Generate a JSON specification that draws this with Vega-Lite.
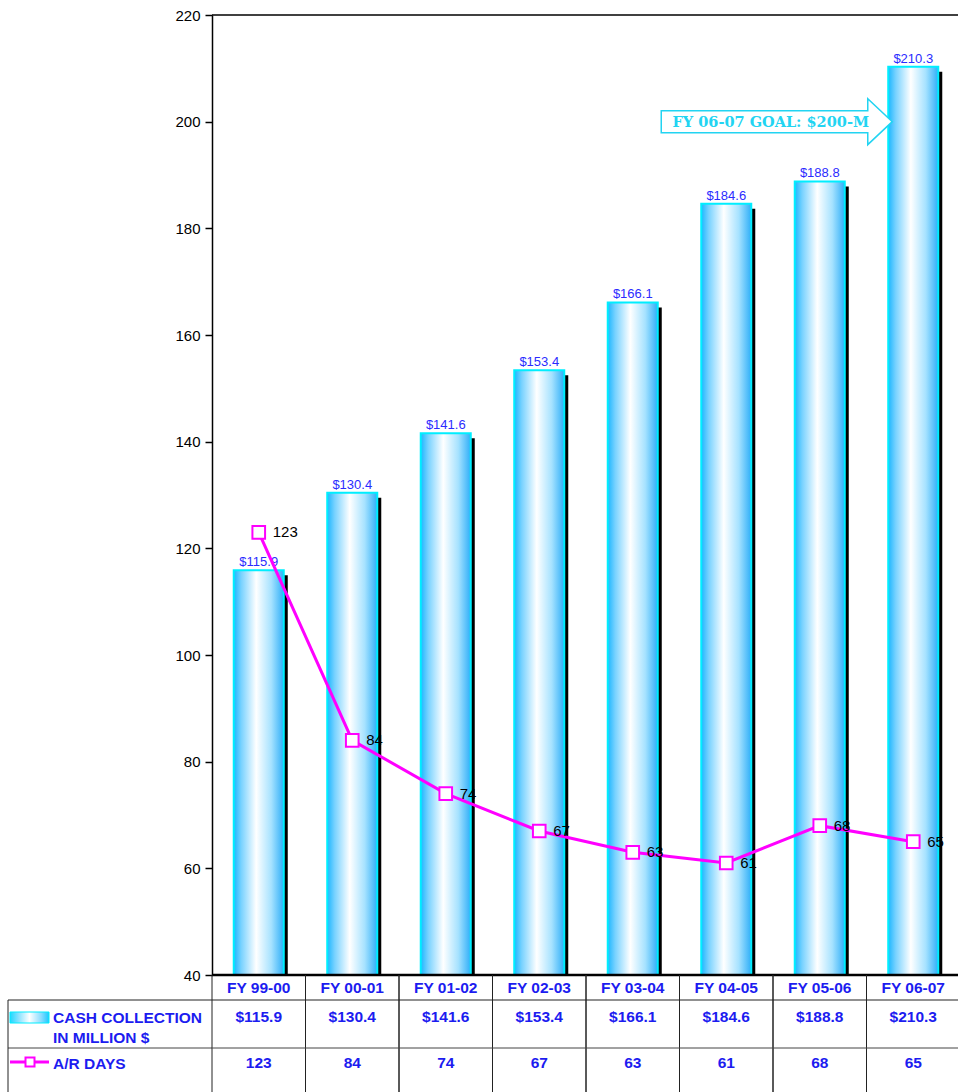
{
  "$schema": "https://vega.github.io/schema/vega-lite/v6.json",
  "padding": {"left": 7, "top": 8, "right": 0, "bottom": 0},
  "background": "white",
  "datasets": {
    "fy": [
      {"fy": "FY 99-00", "cash": 115.9, "ar": 123},
      {"fy": "FY 00-01", "cash": 130.4, "ar": 84},
      {"fy": "FY 01-02", "cash": 141.6, "ar": 74},
      {"fy": "FY 02-03", "cash": 153.4, "ar": 67},
      {"fy": "FY 03-04", "cash": 166.1, "ar": 63},
      {"fy": "FY 04-05", "cash": 184.6, "ar": 61},
      {"fy": "FY 05-06", "cash": 188.8, "ar": 68},
      {"fy": "FY 06-07", "cash": 210.3, "ar": 65}
    ],
    "goal": [
      {"at": "FY 05-06", "goal": 200, "label": "FY 06-07 GOAL: $200-M"}
    ],
    "one": [{}]
  },
  "columns": 2,
  "spacing": 0,
  "bounds": "flush",
  "concat": [
    {
      "width": 204,
      "height": 960,
      "data": {"values": []},
      "mark": {"type": "text"},
      "encoding": {"text": {"value": ""}}
    },
    {
      "width": 748,
      "height": 960,
      "layer": [
        {
          "data": {"name": "one"},
          "mark": {"type": "rule", "color": "black", "strokeWidth": 1.5},
          "encoding": {"y": {"datum": 220, "type": "quantitative", "title": null}}
        },
        {
          "data": {"name": "fy"},
          "mark": {"type": "bar", "color": "black", "width": {"band": 0.535}, "xOffset": 4, "yOffset": 5},
          "encoding": {
            "x": {"field": "fy", "type": "nominal", "sort": null, "axis": null,
                  "scale": {"domain": ["FY 99-00", "FY 00-01", "FY 01-02", "FY 02-03", "FY 03-04", "FY 04-05", "FY 05-06", "FY 06-07"], "paddingInner": 0, "paddingOuter": 0}},
            "y": {"field": "cash", "type": "quantitative", "title": null,
                  "scale": {"domain": [40, 220], "nice": false, "zero": false},
                  "axis": {"values": [40, 60, 80, 100, 120, 140, 160, 180, 200, 220], "title": null}},
            "y2": {"datum": 40}
          }
        },
        {
          "data": {"name": "fy"},
          "mark": {
            "type": "bar",
            "width": {"band": 0.535},
            "stroke": "#00eeff",
            "strokeWidth": 2,
            "fill": {
              "gradient": "linear", "x1": 0, "x2": 1, "y1": 0, "y2": 0,
              "stops": [
                {"offset": 0, "color": "#1cb6ff"},
                {"offset": 0.15, "color": "#78d2ff"},
                {"offset": 0.45, "color": "#ffffff"},
                {"offset": 0.75, "color": "#a6e2ff"},
                {"offset": 1, "color": "#2eaef8"}
              ]
            }
          },
          "encoding": {
            "x": {"field": "fy", "type": "nominal", "sort": null, "axis": null},
            "y": {"field": "cash", "type": "quantitative", "title": null},
            "y2": {"datum": 40}
          }
        },
        {
          "data": {"name": "fy"},
          "mark": {"type": "text", "font": "Liberation Sans", "fontSize": 13, "color": "#2b2bff", "baseline": "bottom", "dy": -1},
          "encoding": {
            "x": {"field": "fy", "type": "nominal", "sort": null, "axis": null},
            "y": {"field": "cash", "type": "quantitative", "title": null},
            "text": {"field": "cash", "type": "quantitative", "format": "$.1f"}
          }
        },
        {
          "data": {"name": "fy"},
          "mark": {"type": "line", "color": "#ff00ff", "strokeWidth": 3},
          "encoding": {
            "x": {"field": "fy", "type": "nominal", "sort": null, "axis": null},
            "y": {"field": "ar", "type": "quantitative", "title": null}
          }
        },
        {
          "data": {"name": "fy"},
          "mark": {"type": "point", "shape": "square", "size": 160, "filled": true, "fill": "white", "stroke": "#ff00ff", "strokeWidth": 2, "opacity": 1},
          "encoding": {
            "x": {"field": "fy", "type": "nominal", "sort": null, "axis": null},
            "y": {"field": "ar", "type": "quantitative", "title": null}
          }
        },
        {
          "data": {"name": "fy"},
          "mark": {"type": "text", "font": "Liberation Sans", "fontSize": 15, "color": "black", "align": "left", "baseline": "middle", "dx": 14},
          "encoding": {
            "x": {"field": "fy", "type": "nominal", "sort": null, "axis": null},
            "y": {"field": "ar", "type": "quantitative", "title": null},
            "text": {"field": "ar", "type": "quantitative"}
          }
        },
        {
          "data": {"name": "one"},
          "mark": {"type": "rule", "color": "black", "strokeWidth": 2.5},
          "encoding": {"y": {"datum": 40, "type": "quantitative", "title": null}}
        },
        {
          "data": {"name": "goal"},
          "mark": {
            "type": "point",
            "shape": "M -1 -0.095 L 0.788 -0.095 L 0.788 -0.199 L 1 0 L 0.788 0.199 L 0.788 0.095 L -1 0.095 Z",
            "size": 53361,
            "filled": true,
            "fill": "white",
            "stroke": "#22d4f2",
            "strokeWidth": 1.5,
            "opacity": 1,
            "xOffset": -43
          },
          "encoding": {
            "x": {"field": "at", "type": "nominal", "axis": null},
            "y": {"field": "goal", "type": "quantitative", "title": null}
          }
        },
        {
          "data": {"name": "goal"},
          "mark": {"type": "text", "font": "DejaVu Serif", "fontWeight": "bold", "fontSize": 14.5, "color": "#22d4f2", "align": "center", "baseline": "middle", "dx": -49, "dy": 1},
          "encoding": {
            "x": {"field": "at", "type": "nominal", "axis": null},
            "y": {"field": "goal", "type": "quantitative", "title": null},
            "text": {"field": "label", "type": "nominal"}
          }
        }
      ]
    },
    {
      "width": 204,
      "height": 117,
      "data": {"name": "one"},
      "layer": [
        {
          "mark": {"type": "rule", "color": "#222222", "strokeWidth": 1},
          "encoding": {"y": {"datum": 25, "type": "quantitative", "scale": {"domain": [0, 117], "reverse": true, "nice": false, "zero": false}, "axis": null}}
        },
        {
          "mark": {"type": "rule", "color": "#444444", "strokeWidth": 1},
          "encoding": {"y": {"datum": 73, "type": "quantitative", "axis": null}}
        },
        {
          "mark": {"type": "rule", "color": "#222222", "strokeWidth": 1},
          "encoding": {
            "x": {"datum": 0, "type": "quantitative", "scale": {"domain": [0, 204], "nice": false, "zero": false}, "axis": null},
            "y": {"datum": 25, "type": "quantitative", "axis": null},
            "y2": {"datum": 117}
          }
        },
        {
          "mark": {
            "type": "rect",
            "stroke": "#00eeff",
            "strokeWidth": 1,
            "fill": {
              "gradient": "linear", "x1": 0, "x2": 1, "y1": 0, "y2": 0,
              "stops": [
                {"offset": 0, "color": "#1cd8ff"},
                {"offset": 0.2, "color": "#7fe0ff"},
                {"offset": 0.5, "color": "#ffffff"},
                {"offset": 0.8, "color": "#8adcff"},
                {"offset": 1, "color": "#1cc8ff"}
              ]
            }
          },
          "encoding": {
            "x": {"datum": 2, "type": "quantitative", "axis": null},
            "x2": {"datum": 41},
            "y": {"datum": 37, "type": "quantitative", "axis": null},
            "y2": {"datum": 48}
          }
        },
        {
          "mark": {"type": "rule", "color": "#ff00ff", "strokeWidth": 3},
          "encoding": {
            "x": {"datum": 2, "type": "quantitative", "axis": null},
            "x2": {"datum": 41},
            "y": {"datum": 87, "type": "quantitative", "axis": null}
          }
        },
        {
          "mark": {"type": "point", "shape": "square", "size": 81, "filled": true, "fill": "white", "stroke": "#ff00ff", "strokeWidth": 2, "opacity": 1},
          "encoding": {
            "x": {"datum": 22, "type": "quantitative", "axis": null},
            "y": {"datum": 87, "type": "quantitative", "axis": null}
          }
        },
        {
          "mark": {"type": "text", "font": "Liberation Sans", "fontWeight": "bold", "fontSize": 15.5, "color": "#1c1cf0", "align": "left", "baseline": "middle", "lineHeight": 20.5},
          "encoding": {
            "x": {"datum": 45, "type": "quantitative", "axis": null},
            "y": {"datum": 42.5, "type": "quantitative", "axis": null},
            "text": {"value": ["CASH COLLECTION", "IN MILLION $"]}
          }
        },
        {
          "mark": {"type": "text", "font": "Liberation Sans", "fontWeight": "bold", "fontSize": 15.5, "color": "#1c1cf0", "align": "left", "baseline": "middle"},
          "encoding": {
            "x": {"datum": 45, "type": "quantitative", "axis": null},
            "y": {"datum": 89, "type": "quantitative", "axis": null},
            "text": {"value": "A/R DAYS"}
          }
        }
      ]
    },
    {
      "width": 748,
      "height": 117,
      "layer": [
        {
          "data": {"name": "fy"},
          "mark": {"type": "rule", "color": "#222222", "strokeWidth": 1},
          "encoding": {
            "x": {"field": "fy", "type": "nominal", "sort": null, "bandPosition": 0, "axis": null,
                  "scale": {"domain": ["FY 99-00", "FY 00-01", "FY 01-02", "FY 02-03", "FY 03-04", "FY 04-05", "FY 05-06", "FY 06-07"], "paddingInner": 0, "paddingOuter": 0}}
          }
        },
        {
          "data": {"name": "fy"},
          "mark": {"type": "rule", "color": "#222222", "strokeWidth": 1},
          "encoding": {
            "x": {"field": "fy", "type": "nominal", "sort": null, "bandPosition": 1, "axis": null}
          }
        },
        {
          "data": {"name": "one"},
          "mark": {"type": "rule", "color": "#222222", "strokeWidth": 1},
          "encoding": {"y": {"datum": 25, "type": "quantitative", "scale": {"domain": [0, 117], "reverse": true, "nice": false, "zero": false}, "axis": null}}
        },
        {
          "data": {"name": "one"},
          "mark": {"type": "rule", "color": "#444444", "strokeWidth": 1},
          "encoding": {"y": {"datum": 73, "type": "quantitative", "axis": null}}
        },
        {
          "data": {"name": "fy"},
          "mark": {"type": "text", "font": "Liberation Sans", "fontWeight": "bold", "fontSize": 15.5, "color": "#1c1cf0", "baseline": "middle"},
          "encoding": {
            "x": {"field": "fy", "type": "nominal", "sort": null, "axis": null},
            "y": {"datum": 13, "type": "quantitative", "axis": null},
            "text": {"field": "fy", "type": "nominal"}
          }
        },
        {
          "data": {"name": "fy"},
          "mark": {"type": "text", "font": "Liberation Sans", "fontWeight": "bold", "fontSize": 15.5, "color": "#1c1cf0", "baseline": "middle"},
          "encoding": {
            "x": {"field": "fy", "type": "nominal", "sort": null, "axis": null},
            "y": {"datum": 42, "type": "quantitative", "axis": null},
            "text": {"field": "cash", "type": "quantitative", "format": "$.1f"}
          }
        },
        {
          "data": {"name": "fy"},
          "mark": {"type": "text", "font": "Liberation Sans", "fontWeight": "bold", "fontSize": 15.5, "color": "#1c1cf0", "baseline": "middle"},
          "encoding": {
            "x": {"field": "fy", "type": "nominal", "sort": null, "axis": null},
            "y": {"datum": 88, "type": "quantitative", "axis": null},
            "text": {"field": "ar", "type": "quantitative"}
          }
        }
      ]
    }
  ],
  "config": {
    "view": {"stroke": null},
    "axisY": {
      "grid": false,
      "domainColor": "black",
      "domainWidth": 1.5,
      "tickColor": "black",
      "tickWidth": 1.5,
      "tickSize": 7,
      "labelFont": "Liberation Sans",
      "labelFontSize": 15,
      "labelColor": "black",
      "labelPadding": 5
    }
  }
}
